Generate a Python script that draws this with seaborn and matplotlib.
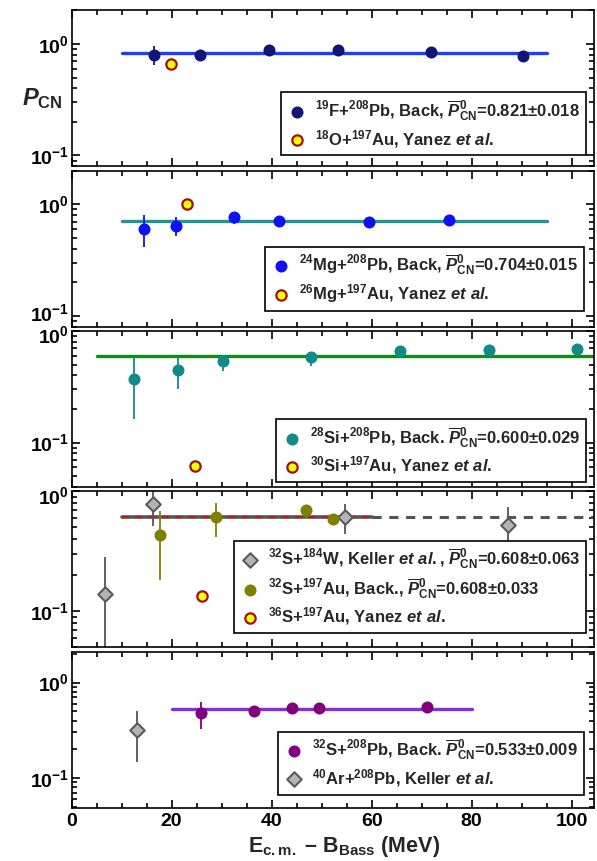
import numpy as np
import pandas as pd
import matplotlib
matplotlib.use("Agg")
import matplotlib.pyplot as plt
import matplotlib.transforms as mtransforms
import seaborn as sns
from matplotlib.ticker import MultipleLocator, LogLocator, NullFormatter

# ---------------- data ----------------
# Panel 1
f19_x = [16.4, 25.7, 39.5, 53.3, 71.8, 90.2]
f19_y = [0.80, 0.80, 0.89, 0.89, 0.84, 0.775]
f19_lo = [0.15, 0.07, 0.04, 0.04, 0.04, 0.03]
f19_hi = [0.15, 0.07, 0.04, 0.04, 0.04, 0.03]
o18_x = [19.8]
o18_y = [0.667]
fit1_x = [10, 95]
fit1_val = 0.821

# Panel 2
mg24_x = [14.4, 20.8, 32.4, 41.5, 59.4, 75.4]
mg24_y = [0.60, 0.64, 0.766, 0.71, 0.69, 0.725]
mg24_lo = [0.19, 0.12, 0.10, 0.06, 0.05, 0.05]
mg24_hi = [0.20, 0.13, 0.05, 0.05, 0.04, 0.04]
mg26_x = [23.0]
mg26_y = [1.0]
fit2_x = [10, 95]
fit2_val = 0.704

# Panel 3
si28_x = [12.5, 21.2, 30.3, 47.9, 65.6, 83.5, 101.1]
si28_y = [0.374, 0.445, 0.544, 0.587, 0.66, 0.674, 0.693]
si28_lo = [0.21, 0.14, 0.11, 0.10, 0.04, 0.04, 0.04]
si28_hi = [0.21, 0.14, 0.07, 0.06, 0.04, 0.04, 0.04]
si30_x = [24.6]
si30_y = [0.0614]
fit3_x = [5, 105]
fit3_val = 0.600

# Panel 4
w184_x = [6.7, 16.2, 54.6, 87.2]
w184_y = [0.14, 0.788, 0.617, 0.528]
w184_lo = [0.11, 0.27, 0.18, 0.23]
w184_hi = [0.145, 0.21, 0.17, 0.21]
au197_x = [17.7, 28.8, 46.9, 52.2]
au197_y = [0.433, 0.617, 0.693, 0.59]
au197_lo = [0.25, 0.20, 0.09, 0.065]
au197_hi = [0.25, 0.19, 0.05, 0.05]
s36_x = [26.0]
s36_y = [0.133]
fit4_x = [10, 60]
fit4_ext_x = [60, 105]
fit4_val = 0.608

# Panel 5
pb_x = [25.9, 36.4, 44.1, 49.4, 71.0]
pb_y = [0.475, 0.507, 0.536, 0.536, 0.558]
pb_lo = [0.145, 0.04, 0.04, 0.04, 0.03]
pb_hi = [0.155, 0.04, 0.04, 0.04, 0.03]
ar40_x = [13.0]
ar40_y = [0.319]
ar40_lo = [0.172]
ar40_hi = [0.184]
fit5_x = [20, 80]
fit5_val = 0.533

ylims = [(0.08, 2.0), (0.08, 2.0), (0.04, 1.0), (0.05, 1.0), (0.049, 2.1)]

# ---------------- style ----------------
sns.set_theme(style="ticks")
plt.rcParams.update({
    "font.family": ["Liberation Sans", "DejaVu Sans"],
    "font.weight": "bold",
    "mathtext.fontset": "custom",
    "mathtext.rm": "Liberation Sans:bold",
    "mathtext.it": "Liberation Sans:italic:bold",
    "mathtext.bf": "Liberation Sans:bold",
    "mathtext.sf": "Liberation Sans:bold",
    "axes.linewidth": 1.2,
    "axes.edgecolor": "black",
})

fig = plt.figure(figsize=(5.97, 8.61), dpi=100)
gs = fig.add_gridspec(5, 1, left=0.120, right=0.995, bottom=0.0619, top=0.988, hspace=0.028)
axes = [fig.add_subplot(gs[i]) for i in range(5)]

YEL = "#ffff00"
YEL_EDGE = "#a01010"
GRAY_F = "#b4b4b4"
GRAY_E = "#5a5a5a"


def err(ax, x, y, lo, hi, color):
    ax.errorbar(x, y, yerr=[lo, hi], fmt="none", ecolor=color, elinewidth=1.3, capsize=0, zorder=2)


def fitline(ax, xs, val, color, ls="-", lw=2.4, z=1):
    sns.lineplot(x=xs, y=[val] * len(xs), ax=ax, color=color, lw=lw, ls=ls, zorder=z, legend=False)


def circles(ax, x, y, color, label):
    sns.scatterplot(x=x, y=y, ax=ax, color=color, s=75, edgecolor=color, linewidth=0, zorder=4, label=label)


def yellows(ax, x, y, label):
    sns.scatterplot(x=x, y=y, ax=ax, color=YEL, s=55, edgecolor=YEL_EDGE, linewidth=1.6, zorder=4, label=label)


def diamonds(ax, x, y, label):
    sns.scatterplot(x=x, y=y, ax=ax, marker="D", color=GRAY_F, s=55, edgecolor=GRAY_E, linewidth=1.5, zorder=4, label=label)


PB = r"$\overline{P}^{0}_{\mathrm{CN}}$"
PM = r"$\pm$"

# Panel 1
ax = axes[0]
fitline(ax, fit1_x, fit1_val, "#1f3cff")
err(ax, f19_x, f19_y, f19_lo, f19_hi, "#141478")
circles(ax, f19_x, f19_y, "#141478", r"$^{19}$F+$^{208}$Pb, Back, " + PB + "=0.821" + PM + "0.018")
yellows(ax, o18_x, o18_y, r"$^{18}$O+$^{197}$Au, Yanez $et\ al.$")

# Panel 2
ax = axes[1]
fitline(ax, fit2_x, fit2_val, "#1e9696")
err(ax, mg24_x, mg24_y, mg24_lo, mg24_hi, "#1010f5")
circles(ax, mg24_x, mg24_y, "#1010f5", r"$^{24}$Mg+$^{208}$Pb, Back, " + PB + "=0.704" + PM + "0.015")
yellows(ax, mg26_x, mg26_y, r"$^{26}$Mg+$^{197}$Au, Yanez $et\ al.$")

# Panel 3
ax = axes[2]
fitline(ax, fit3_x, fit3_val, "#138a13")
err(ax, si28_x, si28_y, si28_lo, si28_hi, "#138a8a")
circles(ax, si28_x, si28_y, "#138a8a", r"$^{28}$Si+$^{208}$Pb, Back. " + PB + "=0.600" + PM + "0.029")
yellows(ax, si30_x, si30_y, r"$^{30}$Si+$^{197}$Au, Yanez $et\ al.$")

# Panel 4
ax = axes[3]
fitline(ax, fit4_x, fit4_val, "#555555", lw=2.6, z=1)
fitline(ax, fit4_x, fit4_val, "#c01818", ls=(0, (3, 3)), lw=1.6, z=1.5)
fitline(ax, fit4_ext_x, fit4_val, "#555555", ls=(0, (3, 2.5)), lw=2.2, z=1)
err(ax, w184_x, w184_y, w184_lo, w184_hi, "#555555")
err(ax, au197_x, au197_y, au197_lo, au197_hi, "#808000")
diamonds(ax, w184_x, w184_y, r"$^{32}$S+$^{184}$W, Keller $et\ al.$, " + PB + "=0.608" + PM + "0.063")
circles(ax, au197_x, au197_y, "#808000", r"$^{32}$S+$^{197}$Au, Back., " + PB + "=0.608" + PM + "0.033")
yellows(ax, s36_x, s36_y, r"$^{36}$S+$^{197}$Au, Yanez $et\ al.$")

# Panel 5
ax = axes[4]
fitline(ax, fit5_x, fit5_val, "#8a2be2")
err(ax, pb_x, pb_y, pb_lo, pb_hi, "#800080")
err(ax, ar40_x, ar40_y, ar40_lo, ar40_hi, "#555555")
circles(ax, pb_x, pb_y, "#800080", r"$^{32}$S+$^{208}$Pb, Back. " + PB + "=0.533" + PM + "0.009")
diamonds(ax, ar40_x, ar40_y, r"$^{40}$Ar+$^{208}$Pb, Keller $et\ al.$")

leg_anchor = [(0.984, 0.07), (0.981, 0.10), (0.985, 0.03), (0.985, 0.09), (0.981, 0.083)]

for i, ax in enumerate(axes):
    ax.set_yscale("log")
    ax.set_ylim(*ylims[i])
    ax.set_xlim(0, 104.5)
    ax.xaxis.set_major_locator(MultipleLocator(20))
    ax.xaxis.set_minor_locator(MultipleLocator(5))
    ax.yaxis.set_major_locator(LogLocator(base=10, numticks=10))
    ax.yaxis.set_minor_locator(LogLocator(base=10, subs=np.arange(2, 10), numticks=10))
    ax.yaxis.set_minor_formatter(NullFormatter())
    ax.tick_params(which="both", direction="in", top=True, right=True, width=1.2, colors="black")
    ax.tick_params(which="major", length=6, labelsize=14)
    ax.tick_params(which="minor", length=3.5)
    ax.tick_params(axis="y", which="major", pad=2)
    if i < 4:
        ax.tick_params(labelbottom=False)
    ax.set_xlabel("")
    ax.set_ylabel("")
    for sp in ax.spines.values():
        sp.set_visible(True)
        sp.set_linewidth(1.2)
        sp.set_color("black")
    leg = ax.legend(loc="lower right", bbox_to_anchor=leg_anchor[i], fontsize=12,
                    frameon=True, fancybox=False, edgecolor="black", framealpha=1,
                    handletextpad=0.5, borderpad=0.35, labelspacing=0.3,
                    handlelength=1.2, borderaxespad=0.0)
    leg.get_frame().set_linewidth(1.2)

# small nudges so stacked tick labels at panel joints do not collide
fig.canvas.draw()
down = mtransforms.ScaledTranslation(0, -2.5 / 72, fig.dpi_scale_trans)
up = mtransforms.ScaledTranslation(0, 2.5 / 72, fig.dpi_scale_trans)
for i, ax in enumerate(axes):
    lo, hi = ax.get_ylim()
    for tick in ax.yaxis.get_major_ticks():
        loc = tick.get_loc()
        if i > 0 and abs(np.log10(loc) - np.log10(hi)) < 0.02:
            tick.label1.set_transform(tick.label1.get_transform() + down)
        if i == 1 and abs(loc - 0.1) < 1e-9:
            tick.label1.set_transform(tick.label1.get_transform() + up)

fig.text(0.037, 0.885, r"$P_{\mathrm{CN}}$", fontsize=17, ha="left", va="center")
fig.text(0.576, 0.017, r"E$_{\mathrm{c.m.}}$ – B$_{\mathrm{Bass}}$ (MeV)", fontsize=15.5,
         ha="center", va="center", fontweight="bold")

fig.savefig("out.png", dpi=100)
